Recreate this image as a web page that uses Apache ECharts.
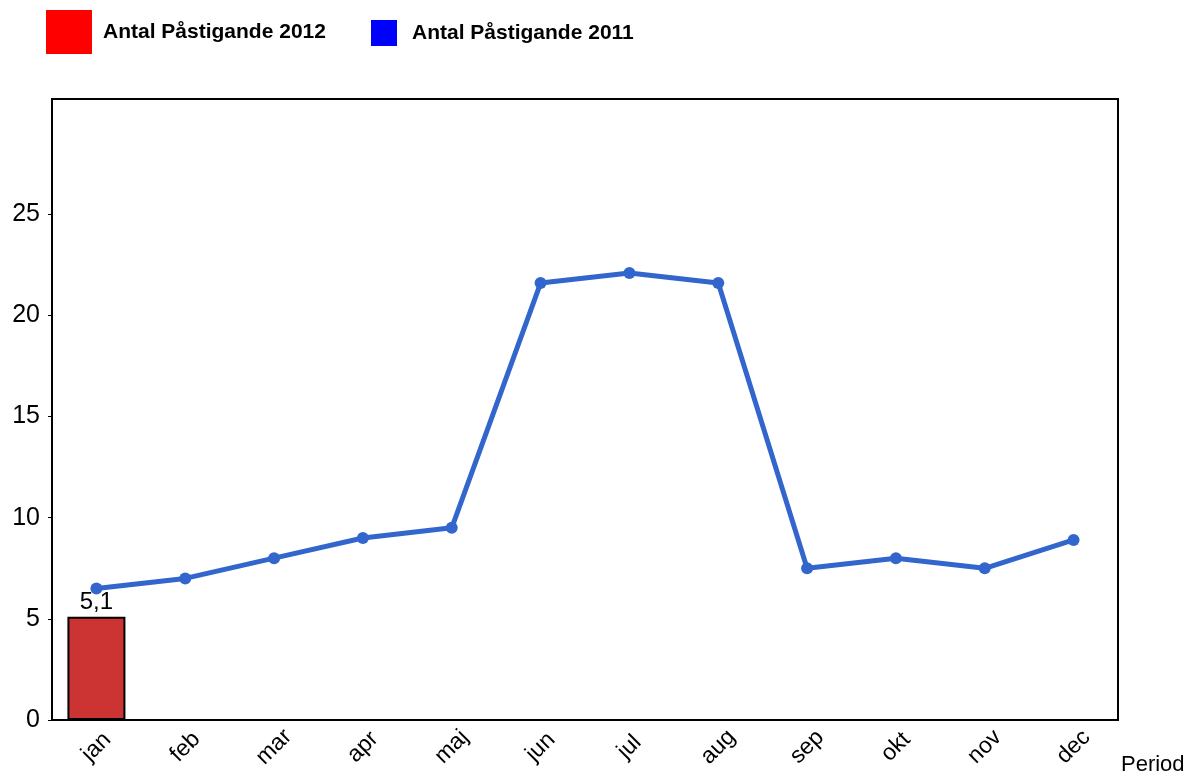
<!DOCTYPE html>
<html>
<head>
    <meta charset="utf-8">
    <title>Antal Påstigande</title>
    <script src="https://cdn.jsdelivr.net/npm/echarts@6/dist/echarts.min.js"></script>
</head>
<body style="margin:0;background:#fff">
<div id="main" style="width:1193px;height:778px"></div>
<script type="text/javascript">
    var months = ['jan', 'feb', 'mar', 'apr', 'maj', 'jun', 'jul', 'aug', 'sep', 'okt', 'nov', 'dec'];
    var name2012 = 'Antal Påstigande 2012';
    var name2011 = 'Antal Påstigande 2011';
    // 2012: bara januari finns
    var values2012 = [5.1, null, null, null, null, null, null, null, null, null, null, null];
    var values2011 = [6.5, 7.0, 8.0, 9.0, 9.5, 21.6, 22.1, 21.6, 7.5, 8.0, 7.5, 8.9];
    var yTicks = [0, 5, 10, 15, 20, 25];
    var yMax = 30.7;

    var myChart = echarts.init(document.getElementById('main'));
    var font = 'Liberation Sans, Arial, sans-serif';

    var option = {
        animation: false,
        textStyle: {fontFamily: font},
        legend: [{
            left: 46,
            top: 10,
            padding: 0,
            itemWidth: 46,
            itemHeight: 44,
            selectedMode: false,
            textStyle: {fontSize: 21, fontWeight: 'bold', color: '#000', fontFamily: font, padding: [0, 0, 0, 6]},
            data: [{name: name2012, icon: 'rect', itemStyle: {color: '#ff0000', borderWidth: 0}}]
        }, {
            left: 371,
            top: 20,
            padding: 0,
            itemWidth: 26,
            itemHeight: 26,
            selectedMode: false,
            textStyle: {fontSize: 21, fontWeight: 'bold', color: '#000', fontFamily: font, padding: [0, 0, 0, 10]},
            data: [{name: name2011, icon: 'rect', itemStyle: {color: '#0000ff'}, lineStyle: {width: 0}}]
        }],
        grid: {
            left: 52,
            right: 75,
            top: 99,
            bottom: 58,
            show: true,
            borderColor: '#000',
            borderWidth: 2,
            backgroundColor: '#fff'
        },
        xAxis: {
            type: 'category',
            data: months,
            name: 'Period',
            nameLocation: 'end',
            nameGap: 3,
            nameTextStyle: {fontSize: 22, color: '#000', align: 'left', verticalAlign: 'top', padding: [34, 0, 0, 0]},
            axisLine: {lineStyle: {color: '#000', width: 2}},
            axisTick: {show: false},
            axisLabel: {rotate: 45, fontSize: 23, color: '#000', margin: 27, align: 'center', verticalAlign: 'middle'}
        },
        yAxis: {
            type: 'value',
            min: 0,
            max: yMax,
            interval: 5,
            splitLine: {show: false},
            axisLine: {show: true, lineStyle: {color: '#000', width: 2}},
            axisTick: {show: true, length: 4, lineStyle: {color: '#000'}, customValues: yTicks},
            axisLabel: {fontSize: 25, color: '#000', margin: 12, customValues: yTicks}
        },
        series: [{
            name: name2012,
            type: 'bar',
            data: values2012,
            barWidth: 58,
            itemStyle: {color: '#cc3333', borderColor: '#000', borderWidth: 2},
            label: {
                show: true,
                position: 'top',
                distance: 2,
                fontSize: 24,
                color: '#000',
                formatter: function (p) { return String(p.value).replace('.', ','); }
            }
        }, {
            name: name2011,
            type: 'line',
            data: values2011,
            symbol: 'circle',
            symbolSize: 12,
            lineStyle: {width: 5, color: '#3366cc'},
            itemStyle: {color: '#3366cc'}
        }]
    };
    myChart.setOption(option);
</script>
</body>
</html>
